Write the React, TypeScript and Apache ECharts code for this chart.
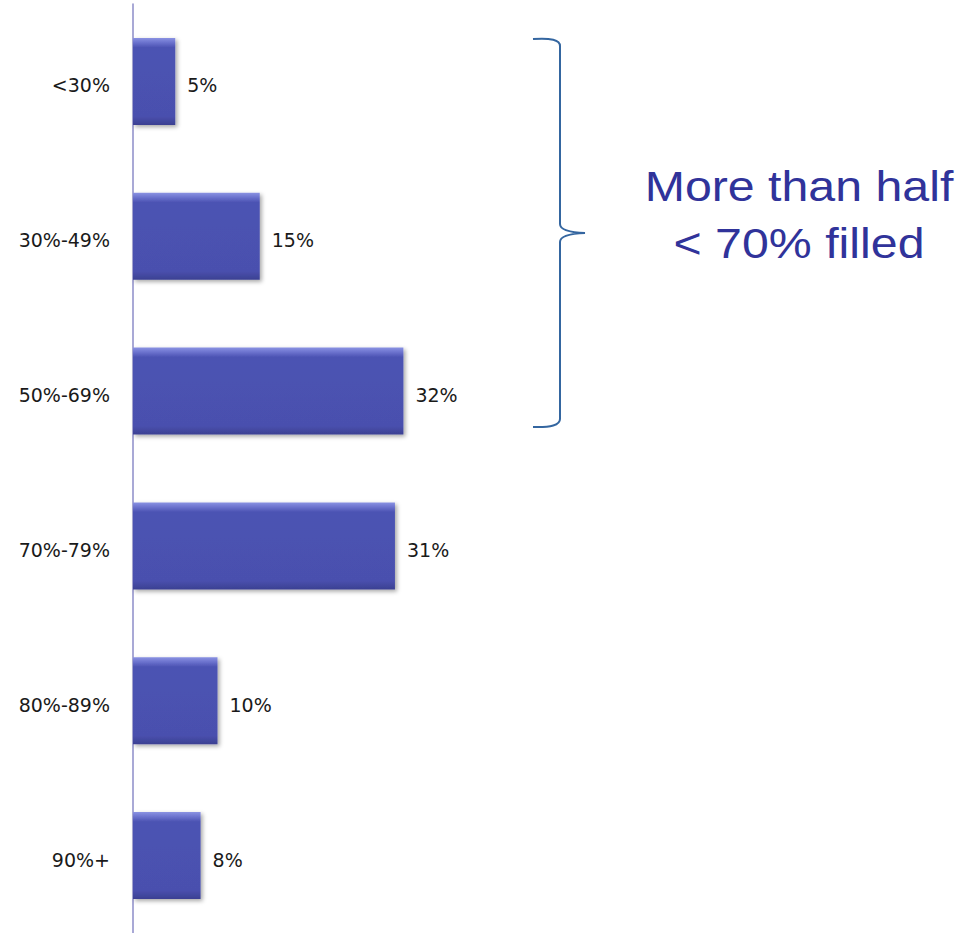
import React, { useEffect, useRef } from "react";
import * as echarts from "echarts";

const categories = ["<30%", "30%-49%", "50%-69%", "70%-79%", "80%-89%", "90%+"];
const values = [5, 15, 32, 31, 10, 8];
const noteLines = ["More than half", "< 70% filled"];

const BRACE_D =
  "M533,39 Q560,37 560,46 L560,224 Q560,232 585,233 Q560,234 560,242 L560,419 Q560,428 533,427";

export default function App() {
  const ref = useRef<HTMLDivElement>(null);
  useEffect(() => {
    if (!ref.current) return;
    echarts.graphic.registerShape("brace", echarts.graphic.extendPath(BRACE_D, {}) as any);
    const chart = echarts.init(ref.current, null, { renderer: "svg" });
    chart.setOption({
      animation: false,
      backgroundColor: "#ffffff",
      grid: { left: 133, top: 4, width: 338, height: 930 },
      xAxis: {
        type: "value",
        min: 0,
        max: 40,
        show: false,
      },
      yAxis: {
        type: "category",
        data: categories,
        inverse: true,
        axisLine: { show: true, lineStyle: { color: "#8c8cc8", width: 1.5 } },
        axisTick: { show: false },
        axisLabel: {
          margin: 23,
          color: "#1a1a1a",
          fontFamily: "DejaVu Sans",
          fontSize: 19,
          verticalAlign: "top",
          lineHeight: 8,
        },
      },
      series: [
        {
          type: "bar",
          data: values,
          barWidth: 87,
          itemStyle: {
            color: new echarts.graphic.LinearGradient(0, 0, 0, 1, [
              { offset: 0, color: "#8a92e2" },
              { offset: 0.05, color: "#6d74cf" },
              { offset: 0.11, color: "#4c53b3" },
              { offset: 0.9, color: "#4a50ae" },
              { offset: 1, color: "#3b4092" },
            ]),
            shadowColor: "rgba(0,0,0,0.35)",
            shadowBlur: 4,
            shadowOffsetX: 2,
            shadowOffsetY: 2,
          },
          label: {
            show: true,
            position: "right",
            distance: 12,
            offset: [0, 4],
            formatter: "{c}%",
            color: "#1a1a1a",
            fontFamily: "DejaVu Sans",
            fontSize: 19,
          },
        },
      ],
      graphic: [
        {
          type: "brace",
          x: 0,
          y: 0,
          style: { stroke: "#3466a0", fill: "none", lineWidth: 2 },
        },
        {
          type: "text",
          x: 799,
          y: 187,
          scaleX: 1.15,
          style: {
            text: noteLines[0],
            fill: "#30339a",
            font: "42px 'Liberation Sans', Arial, sans-serif",
            textAlign: "center",
            textVerticalAlign: "middle",
          },
        },
        {
          type: "text",
          x: 799,
          y: 244,
          scaleX: 1.15,
          style: {
            text: noteLines[1],
            fill: "#30339a",
            font: "42px 'Liberation Sans', Arial, sans-serif",
            textAlign: "center",
            textVerticalAlign: "middle",
          },
        },
      ],
    });
    return () => chart.dispose();
  }, []);
  return (
    <div
      ref={ref}
      style={{ position: "fixed", left: 0, top: 0, width: 976, height: 933 }}
    />
  );
}
